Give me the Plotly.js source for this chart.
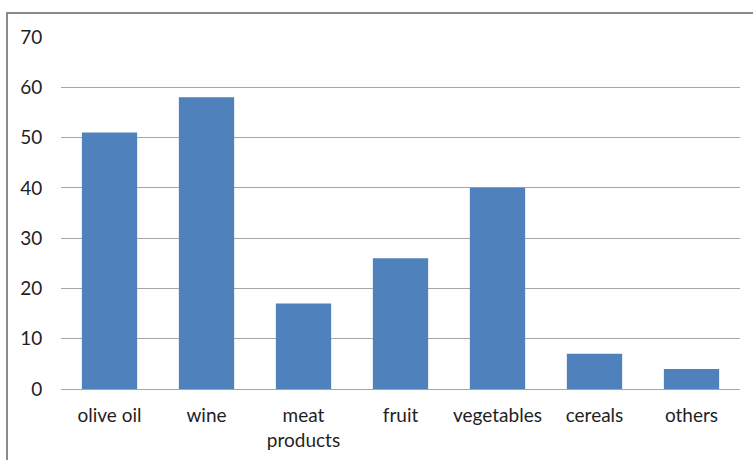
<!DOCTYPE html>
<html>
<head>
<meta charset="utf-8">
<script src="https://cdn.plot.ly/plotly-3.0.1.min.js"></script>
<style>
  html, body { margin: 0; padding: 0; overflow: hidden; background: #fff; }
  #chart { width: 753px; height: 460px; position: absolute; left: 0; top: 0; }
  #frame { position: absolute; left: 6px; top: 12px; width: 800px; height: 500px;
           border: 2px solid #8a8a8a; pointer-events: none; }
</style>
</head>
<body>
<div id="chart"></div>
<div id="frame"></div>
<script>
// Product categories and their values
const categories = ['olive oil', 'wine', 'meat<br>products', 'fruit', 'vegetables', 'cereals', 'others'];
const values = [51, 58, 17, 26, 40, 7, 4];
const yTicks = [0, 10, 20, 30, 40, 50, 60, 70];

const trace = {
  type: 'bar',
  x: categories,
  y: values,
  marker: { color: '#4F81BD' },
  width: 0.57,
  hoverinfo: 'x+y'
};

const layout = {
  width: 753,
  height: 460,
  margin: { l: 61, r: 13, t: 37, b: 71 },
  paper_bgcolor: '#ffffff',
  plot_bgcolor: '#ffffff',
  showlegend: false,
  font: { family: 'Lato, "Open Sans", sans-serif', size: 19, color: '#1f1f1f' },
  xaxis: {
    type: 'category',
    showgrid: false,
    showline: true,
    linecolor: '#a6a6a6',
    linewidth: 1,
    ticks: 'outside',
    ticklen: 9,
    tickcolor: 'rgba(0,0,0,0)',
    tickfont: { size: 19 }
  },
  yaxis: {
    range: [0, 70],
    tickvals: yTicks,
    ticktext: yTicks.map(String),
    showgrid: true,
    gridcolor: '#a6a6a6',
    gridwidth: 1,
    zeroline: false,
    showline: false,
    ticks: 'outside',
    ticklen: 14,
    tickcolor: 'rgba(0,0,0,0)',
    tickfont: { size: 19 }
  }
};

Plotly.newPlot('chart', [trace], layout, { displayModeBar: false, staticPlot: true });
</script>
</body>
</html>
